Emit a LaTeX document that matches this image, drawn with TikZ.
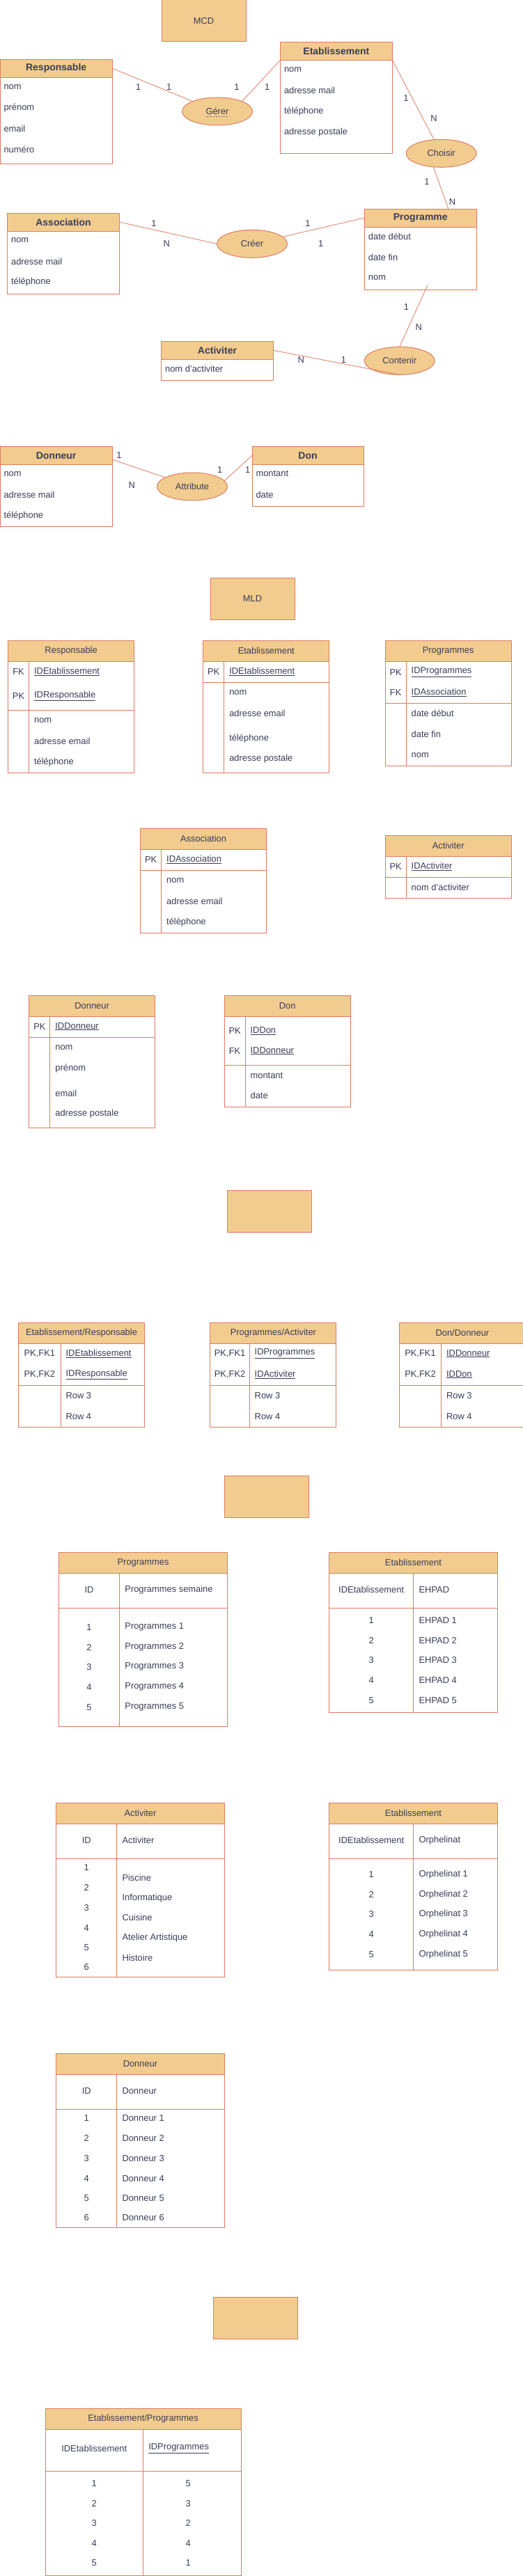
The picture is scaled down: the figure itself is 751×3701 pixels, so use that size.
\documentclass[tikz,border=0pt]{standalone}
\usepackage{fontspec}
\setmainfont{Liberation Sans}
\usetikzlibrary{shapes.geometric,calc,positioning}

\definecolor{hdrfill}{HTML}{F2CC8F}
\definecolor{rimcol}{HTML}{E07A5F}
\definecolor{ink}{HTML}{393C56}

\tikzset{
  rim/.style={draw=rimcol, line width=1pt},
  txt/.style={text=ink, font=\fontsize{12.9}{15}\selectfont, inner sep=0pt, outer sep=0pt},
  hdrbox/.style={rim, fill=hdrfill, txt, minimum height=30pt},
  enthead/.style={hdrbox, minimum height=26pt, font=\fontsize{14}{16}\selectfont\bfseries},
  entbody/.style={rim, fill=white, inner sep=0pt, outer sep=0pt},
  rel/.style={ellipse, rim, fill=hdrfill, txt, minimum width=101pt, minimum height=40pt},
  link/.style={draw=rimcol, line width=0.8pt},
  card/.style={txt},
  attr/.style={txt, anchor=west},
}

% MCD entity: name, x, y, width, body height, title
\newcommand{\mcdentity}[6]{%
  \node[enthead, minimum width=#4pt, anchor=north west] (#1H) at (#2,#3) {#6};
  \node[entbody, minimum width=#4pt, minimum height=#5pt, anchor=north west] (#1B) at (#1H.south west) {};
}
% table: name, x, y, width, first column, upper part, lower part, title
\newcommand{\mldtable}[8]{%
  \node[hdrbox, minimum width=#4pt, anchor=north west] (#1) at (#2,#3) {#8};
  \draw[rim] (#1.south west) rectangle ($(#1.south east)+(0,#6+#7)$);
  \draw[rim] ($(#1.south west)+(0,#6)$) -- ($(#1.south east)+(0,#6)$);
  \draw[rim] ($(#1.south west)+(#5,0)$) -- ($(#1.south west)+(#5,#6+#7)$);
}
% key rows: table, first column, list of key/field/y
\newcommand{\keyrows}[3]{%
  \foreach \k/\f/\yy [count=\i] in {#3} {
    \node[txt] (#1K\i) at ($(#1.south west)+(#2/2,\yy)$) {\k};
    \node[attr] (#1F\i) at ($(#1.south west)+(#2+7.5,\yy)$) {\underline{\f}};
  }}
% plain rows: table, first column, list of field/y
\newcommand{\plainrows}[3]{%
  \foreach \f/\yy [count=\i] in {#3}
    \node[attr] (#1R\i) at ($(#1.south west)+(#2+7.5,\yy)$) {\f};}
% data rows: table, first column, list of id/value/y
\newcommand{\datarows}[3]{%
  \foreach \n/\v/\yy [count=\i] in {#3} {
    \node[txt] (#1I\i) at ($(#1.south west)+(#2/2,\yy)$) {\n};
    \node[attr] (#1V\i) at ($(#1.south west)+(#2+8,\yy)$) {\v};
  }}

\begin{document}
\begin{tikzpicture}[x=1pt,y=-1pt]
\useasboundingbox (0,0) rectangle (751,3701);

%% ---------------- MCD ----------------
\node[hdrbox, minimum width=121pt, minimum height=60pt, anchor=north west] (mcd) at (232,0) {MCD};

\mcdentity{resp}{0}{85.3}{161.3}{124}{Responsable}
\mcdentity{etab}{402.5}{60.3}{160.8}{134}{Etablissement}
\mcdentity{assoc}{10.6}{306}{160.8}{90}{Association}
\mcdentity{prog}{523.4}{300}{160.8}{90}{Programme}
\mcdentity{act}{231.6}{490.3}{160.8}{30}{Activiter}
\mcdentity{donneur}{0}{641.3}{161.3}{89.3}{Donneur}
\mcdentity{don}{362}{641.3}{160}{60}{Don}

\foreach \a [count=\i] in {nom, prénom, email, numéro}
  \node[attr] (respA\i) at ($(respB.north west)+(5.5,{13.5+30*(\i-1)})$) {\a};
\foreach \a [count=\i] in {nom, adresse mail, téléphone, adresse postale}
  \node[attr] (etabA\i) at ($(etabB.north west)+(5.5,{13.5+30*(\i-1)})$) {\a};
\foreach \a [count=\i] in {nom, adresse mail, téléphone}
  \node[attr] (assocA\i) at ($(assocB.north west)+(5.5,{13.5+30*(\i-1)})$) {\a};
\foreach \a [count=\i] in {date début, date fin, nom}
  \node[attr] (progA\i) at ($(progB.north west)+(5.5,{13.5+30*(\i-1)})$) {\a};
\node[attr] (actA1) at ($(actB.north west)+(5.5,13.5)$) {nom d'activiter};
\foreach \a [count=\i] in {nom, adresse mail, téléphone}
  \node[attr] (donneurA\i) at ($(donneurB.north west)+(5.5,{13.5+30*(\i-1)})$) {\a};
\foreach \a [count=\i] in {montant, date}
  \node[attr] (donA\i) at ($(donB.north west)+(5.5,{13.5+30*(\i-1)})$) {\a};

% associations
\node[rel] (gerer) at (312,160) {Gérer};
\draw[ink, dotted, line width=0.8pt] ($(gerer)+(-16.5,7.3)$) -- ($(gerer)+(16.5,7.3)$);
\node[rel] (choisir) at (633.6,220.3) {Choisir};
\node[rel] (creer) at (362,350.3) {Créer};
\node[rel] (contenir) at (573.7,518.3) {Contenir};
\node[rel] (attribute) at (276,699) {Attribute};

\draw[link] (respH.east) -- (gerer);
\draw[link] (gerer.22) -- (etabH.south west);
\draw[link] (etabH.south east) -- (choisir);
\draw[link] (choisir.-120) -- ([xshift=40pt]progH.north);
\draw[link] (assocH.east) -- (creer.west);
\draw[link] (creer) -- (progH.west);
\draw[link] ([xshift=10pt,yshift=6pt]progB.south) -- (contenir.north);
\draw[link] (actH.east) -- (contenir.south);
\draw[link] ([yshift=-6pt]donneurH.east) -- (attribute);
\draw[link] (attribute.10) -- (donH.west);

% cardinalities
\foreach \lx/\ly/\lt [count=\i] in {198.8/125/1, 242.7/125/1, 340/125/1, 383.7/125/1,
    583/140.7/1, 623/170/N, 613/260.7/1, 649.5/290/N,
    221/320.7/1, 239.3/349.7/N, 442/320.7/1, 460.8/349.7/1,
    583.5/440.7/1, 601.3/469.7/N, 432.4/517.3/N, 493.5/517.3/1,
    171/654/1, 189.2/696.7/N, 315.8/674.7/1, 355.8/674.7/1}
  \node[card] (card\i) at (\lx,\ly) {\lt};

%% ---------------- MLD ----------------
\node[hdrbox, minimum width=121pt, minimum height=60pt, anchor=north west] (mld) at (302,830.3) {MLD};

\mldtable{mresp}{11.6}{920.3}{181}{30}{70}{90}{Responsable}
\keyrows{mresp}{30}{FK/IDEtablissement/14.4, PK/IDResponsable/49.4}
\plainrows{mresp}{30}{nom/84.7, adresse email/114.4, téléphone/144.4}

\mldtable{metab}{291.8}{920.3}{181}{30}{30}{130}{Etablissement}
\keyrows{metab}{30}{PK/IDEtablissement/14.4}
\plainrows{metab}{30}{nom/44.7, adresse email/74.4, téléphone/110.4, adresse postale/139.4}

\mldtable{mprog}{553.2}{920.3}{181}{30}{60}{90}{Programmes}
\keyrows{mprog}{30}{PK/IDProgrammes/15.4, FK/IDAssociation/44.4}
\plainrows{mprog}{30}{date début/74.4, date fin/104.4, nom/134.4}

\mldtable{massoc}{201.7}{1190.3}{180.6}{30}{30}{90}{Association}
\keyrows{massoc}{30}{PK/IDAssociation/14.4}
\plainrows{massoc}{30}{nom/44.4, adresse email/74.4, téléphone/104.4}

\mldtable{mact}{553.2}{1200.3}{181}{30}{30}{30}{Activiter}
\keyrows{mact}{30}{PK/IDActiviter/14.4}
\plainrows{mact}{30}{nom d'activiter/44.4}

\mldtable{mdonneur}{41.9}{1430.3}{180.5}{30}{30}{130}{Donneur}
\keyrows{mdonneur}{30}{PK/IDDonneur/14.4}
\plainrows{mdonneur}{30}{nom/44.7, prénom/74.4, email/110.4, adresse postale/139.7}

\mldtable{mdon}{322.1}{1430.3}{181}{30}{70}{60}{Don}
\keyrows{mdon}{30}{PK/IDDon/20.7, FK/IDDonneur/49.4}
\plainrows{mdon}{30}{montant/84.7, date/114}

\node[hdrbox, minimum width=121pt, minimum height=60pt, anchor=north west] (blankA) at (326,1710.3) {};

% join tables
\mldtable{jer}{26.5}{1900.3}{181}{60.6}{60}{60}{Etablissement/Responsable}
\keyrows{jer}{60.6}{{PK,FK1}/IDEtablissement/14.4, {PK,FK2}/IDResponsable/44.4}
\plainrows{jer}{60.6}{Row 3/74.4, Row 4/104.4}

\mldtable{jpa}{301.9}{1900.3}{181}{56.3}{60}{60}{Programmes/Activiter}
\keyrows{jpa}{56.3}{{PK,FK1}/IDProgrammes/14.4, {PK,FK2}/IDActiviter/44.4}
\plainrows{jpa}{56.3}{Row 3/74.4, Row 4/104.4}

\mldtable{jdd}{573.4}{1900.3}{181}{60.2}{60}{60}{Don/Donneur}
\keyrows{jdd}{60.2}{{PK,FK1}/IDDonneur/14.4, {PK,FK2}/IDDon/44.4}
\plainrows{jdd}{60.2}{Row 3/74.4, Row 4/104.4}

\node[hdrbox, minimum width=121pt, minimum height=60pt, anchor=north west] (blankB) at (322.1,2120.3) {};

%% ---------------- data ----------------
\mldtable{pdata}{84.7}{2230.3}{241.7}{86.7}{50}{170}{Programmes}
\node[txt] (pdataH1) at ($(pdata.south west)+(43.35,23.4)$) {ID};
\node[attr] (pdataH2) at ($(pdata.south west)+(94.7,23.4)$) {Programmes semaine};
\datarows{pdata}{86.7}{1/Programmes 1/77.4, 2/Programmes 2/106.4, 3/Programmes 3/134.4,
  4/Programmes 4/163.4, 5/Programmes 5/192.4}

\mldtable{edata}{472.8}{2230.3}{241.2}{120.8}{50}{150}{Etablissement}
\node[txt] (edataH1) at ($(edata.south west)+(60.4,23.4)$) {IDEtablissement};
\node[attr] (edataH2) at ($(edata.south west)+(128.8,23.4)$) {EHPAD};
\datarows{edata}{120.8}{1/EHPAD 1/67.4, 2/EHPAD 2/96.4, 3/EHPAD 3/124.4, 4/EHPAD 4/153.4, 5/EHPAD 5/182.4}

\mldtable{adata}{80.9}{2590.3}{241.2}{86.6}{50}{170}{Activiter}
\node[txt] (adataH1) at ($(adata.south west)+(43.3,23.4)$) {ID};
\node[attr] (adataH2) at ($(adata.south west)+(94.6,23.4)$) {Activiter};
\foreach \n/\yy in {1/62.4, 2/91.4, 3/120.4, 4/149.4, 5/177.4, 6/206}
  \node[txt] (adataI\n) at ($(adata.south west)+(43.3,\yy)$) {\n};
\foreach \v/\yy [count=\i] in {Piscine/77.4, Informatique/106.4, Cuisine/134.4,
    Atelier Artistique/163.4, Histoire/192.4}
  \node[attr] (adataV\i) at ($(adata.south west)+(94.6,\yy)$) {\v};

\mldtable{odata}{472.8}{2590.3}{241.2}{120.8}{50}{160}{Etablissement}
\node[txt] (odataH1) at ($(odata.south west)+(60.4,23.4)$) {IDEtablissement};
\node[attr] (odataH2) at ($(odata.south west)+(128.8,23.4)$) {Orphelinat};
\datarows{odata}{120.8}{1/Orphelinat 1/72.4, 2/Orphelinat 2/101.4, 3/Orphelinat 3/129.4,
  4/Orphelinat 4/158.4, 5/Orphelinat 5/187.4}

\mldtable{ddata}{80.9}{2950.3}{241.2}{86.6}{50}{170}{Donneur}
\node[txt] (ddataH1) at ($(ddata.south west)+(43.3,23.4)$) {ID};
\node[attr] (ddataH2) at ($(ddata.south west)+(94.6,23.4)$) {Donneur};
\datarows{ddata}{86.6}{1/Donneur 1/62.4, 2/Donneur 2/91.4, 3/Donneur 3/120.4,
  4/Donneur 4/149.4, 5/Donneur 5/177.4, 6/Donneur 6/206}

\node[hdrbox, minimum width=121pt, minimum height=60pt, anchor=north west] (blankC) at (306.2,3300.3) {};

\mldtable{epdata}{65}{3460.3}{281.2}{140.6}{60}{150}{Etablissement/Programmes}
\node[txt] (epdataH1) at ($(epdata.south west)+(70.3,27.4)$) {IDEtablissement};
\node[attr] (epdataH2) at ($(epdata.south west)+(148.3,27.4)$) {\underline{IDProgrammes}};
\foreach \a/\b/\yy [count=\i] in {1/5/77.4, 2/3/106.4, 3/2/134.4, 4/4/163.4, 5/1/192}{
  \node[txt] (epdataL\i) at ($(epdata.south west)+(70.3,\yy)$) {\a};
  \node[txt] (epdataR\i) at ($(epdata.south west)+(205.1,\yy)$) {\b};
}

\end{tikzpicture}
\end{document}
